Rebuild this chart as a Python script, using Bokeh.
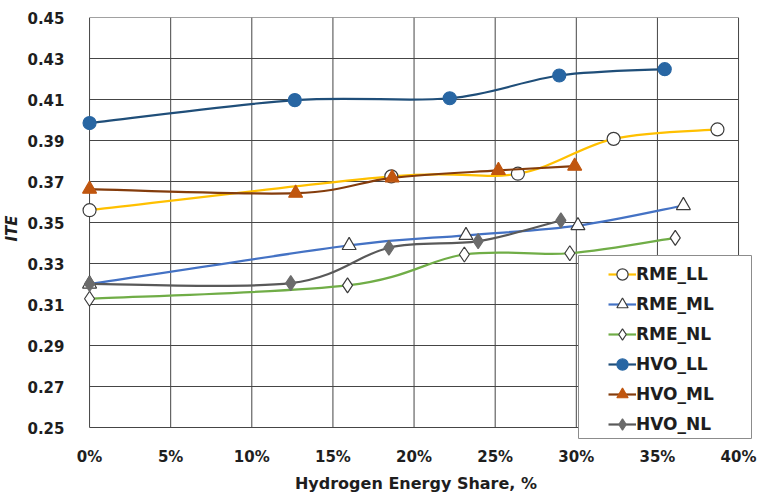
import numpy as np
from bokeh.plotting import figure
from bokeh.models import Range1d, FixedTicker, Legend, LegendItem, BoxAnnotation
from bokeh.embed import file_html
from bokeh.resources import INLINE

# ---- data ----
x_tick_values = [0, 5, 10, 15, 20, 25, 30, 35, 40]
x_tick_labels = ["0%", "5%", "10%", "15%", "20%", "25%", "30%", "35%", "40%"]
y_tick_values = [0.25, 0.27, 0.29, 0.31, 0.33, 0.35, 0.37, 0.39, 0.41, 0.43, 0.45]
y_tick_labels = ["0.25", "0.27", "0.29", "0.31", "0.33", "0.35", "0.37", "0.39", "0.41", "0.43", "0.45"]

series_names = ["RME_LL", "RME_ML", "RME_NL", "HVO_LL", "HVO_ML", "HVO_NL"]

rme_ll_x = [0.0, 18.6, 26.4, 32.3, 38.7]
rme_ll_y = [0.356, 0.3725, 0.3738, 0.3908, 0.3954]
rme_ml_x = [0.0, 16.0, 23.2, 30.1, 36.6]
rme_ml_y = [0.320, 0.3388, 0.3437, 0.3485, 0.3583]
rme_nl_x = [0.0, 15.9, 23.1, 29.6, 36.1]
rme_nl_y = [0.3128, 0.3193, 0.3344, 0.3350, 0.3425]
hvo_ll_x = [0.0, 12.65, 22.2, 28.95, 35.45]
hvo_ll_y = [0.3985, 0.4097, 0.4106, 0.4217, 0.4248]
hvo_ml_x = [0.0, 12.7, 18.65, 25.2, 29.9]
hvo_ml_y = [0.3663, 0.3643, 0.3718, 0.3754, 0.3775]
hvo_nl_x = [0.0, 12.4, 18.45, 23.95, 29.05]
hvo_nl_y = [0.3201, 0.3204, 0.3377, 0.3409, 0.3510]

FONT = "DejaVu Sans"
TEXT = "#1e1e1e"

# frame is slightly larger than the 0..40 % / 0.25..0.45 box so that edge markers
# and the legend box are not clipped; the visible box is drawn by the grid lines
p = figure(width=757, height=495, output_backend="svg", toolbar_location=None,
           x_range=Range1d(-0.62, 40.86), y_range=Range1d(0.24415, 0.45),
           min_border_left=79, min_border_right=5, min_border_top=17, min_border_bottom=56)
p.outline_line_color = None
p.grid.visible = False
p.background_fill_color = "white"
p.border_fill_color = "white"

# grid lines (drawn only within the 0%..40% / 0.25..0.45 box)
p.segment(x0=x_tick_values, y0=y_tick_values[0], x1=x_tick_values, y1=y_tick_values[-1],
          line_color="#454545", line_width=1, level="underlay")
p.segment(x0=x_tick_values[0], y0=y_tick_values, x1=x_tick_values[-1], y1=y_tick_values,
          line_color="#454545", line_width=1, level="underlay")

# axes
for ax in (p.xaxis[0], p.yaxis[0]):
    ax.axis_line_color = None
    ax.major_tick_line_color = None
    ax.minor_tick_line_color = None
    ax.major_label_text_font = FONT
    ax.major_label_text_font_style = "bold"
    ax.major_label_text_font_size = "15px"
    ax.major_label_text_color = TEXT
    ax.axis_label_text_font = FONT
    ax.axis_label_text_color = TEXT

p.xaxis[0].ticker = FixedTicker(ticks=x_tick_values)
p.xaxis[0].major_label_overrides = dict(zip(x_tick_values, x_tick_labels))
p.xaxis[0].major_label_standoff = 2
p.xaxis[0].axis_label = "Hydrogen Energy Share, %"
p.xaxis[0].axis_label_text_font_size = "16px"
p.xaxis[0].axis_label_text_font_style = "bold"
p.xaxis[0].axis_label_standoff = 5

p.yaxis[0].ticker = FixedTicker(ticks=y_tick_values)
p.yaxis[0].major_label_overrides = dict(zip(y_tick_values, y_tick_labels))
p.yaxis[0].major_label_standoff = 9
p.yaxis[0].axis_label = "ITE"
p.yaxis[0].axis_label_text_font_size = "15px"
p.yaxis[0].axis_label_text_font_style = "bold italic"
p.yaxis[0].axis_label_standoff = 3


def smooth(xs, ys):
    """Catmull-Rom style bezier control points (Excel-like smoothed line)."""
    x = np.asarray(xs, float)
    y = np.asarray(ys, float)
    n = len(x)
    qx = np.concatenate([[x[0]], x, [x[-1]]])
    qy = np.concatenate([[y[0]], y, [y[-1]]])
    cx0 = qx[1:n] + (qx[2:n + 1] - qx[0:n - 1]) / 6
    cy0 = qy[1:n] + (qy[2:n + 1] - qy[0:n - 1]) / 6
    cx1 = qx[2:n + 1] - (qx[3:n + 2] - qx[1:n]) / 6
    cy1 = qy[2:n + 1] - (qy[3:n + 2] - qy[1:n]) / 6
    return dict(x0=x[:-1], y0=y[:-1], x1=x[1:], y1=y[1:],
                cx0=cx0, cy0=cy0, cx1=cx1, cy1=cy1)


styles = [
    (rme_ll_x, rme_ll_y, "#FFC000", "circle", "white", "#3c3c3c", 13),
    (rme_ml_x, rme_ml_y, "#4472C4", "triangle", "white", "#3c3c3c", 14),
    (rme_nl_x, rme_nl_y, "#70AD47", "diamond", "white", "#3c3c3c", 15),
    (hvo_ll_x, hvo_ll_y, "#1F4E79", "circle", "#2866A3", "#2866A3", 13),
    (hvo_ml_x, hvo_ml_y, "#843C0C", "triangle", "#C0560F", "#C0560F", 14),
    (hvo_nl_x, hvo_nl_y, "#595959", "diamond", "#6B6B6B", "#6B6B6B", 15),
]

items = []
for name, (xs, ys, lc, mk, fc, oc, sz) in zip(series_names, styles):
    b = p.bezier(line_color=lc, line_width=2.2, **smooth(xs, ys))
    s = p.scatter(xs, ys, marker=mk, size=sz, fill_color=fc, line_color=oc, line_width=1.2)
    items.append(LegendItem(label=name, renderers=[b, s]))

# legend frame (extends beyond the 0..40 % box as in the reference)
box = BoxAnnotation(left=578, right=751, top=255, bottom=438,
                    left_units="canvas", right_units="canvas",
                    top_units="canvas", bottom_units="canvas",
                    fill_color="white", fill_alpha=1.0,
                    line_color="#8c8c8c", line_width=1, line_alpha=1.0)
p.add_layout(box)

legend = Legend(items=items, location=(529, 0), padding=2, spacing=0,
                glyph_width=28, glyph_height=30, label_height=30, label_standoff=0,
                label_text_font=FONT, label_text_font_style="bold",
                label_text_font_size="17px", label_text_color=TEXT,
                border_line_color=None, background_fill_alpha=0.0, margin=0)
p.add_layout(legend)

open("out.html", "w").write(file_html(p, INLINE))
